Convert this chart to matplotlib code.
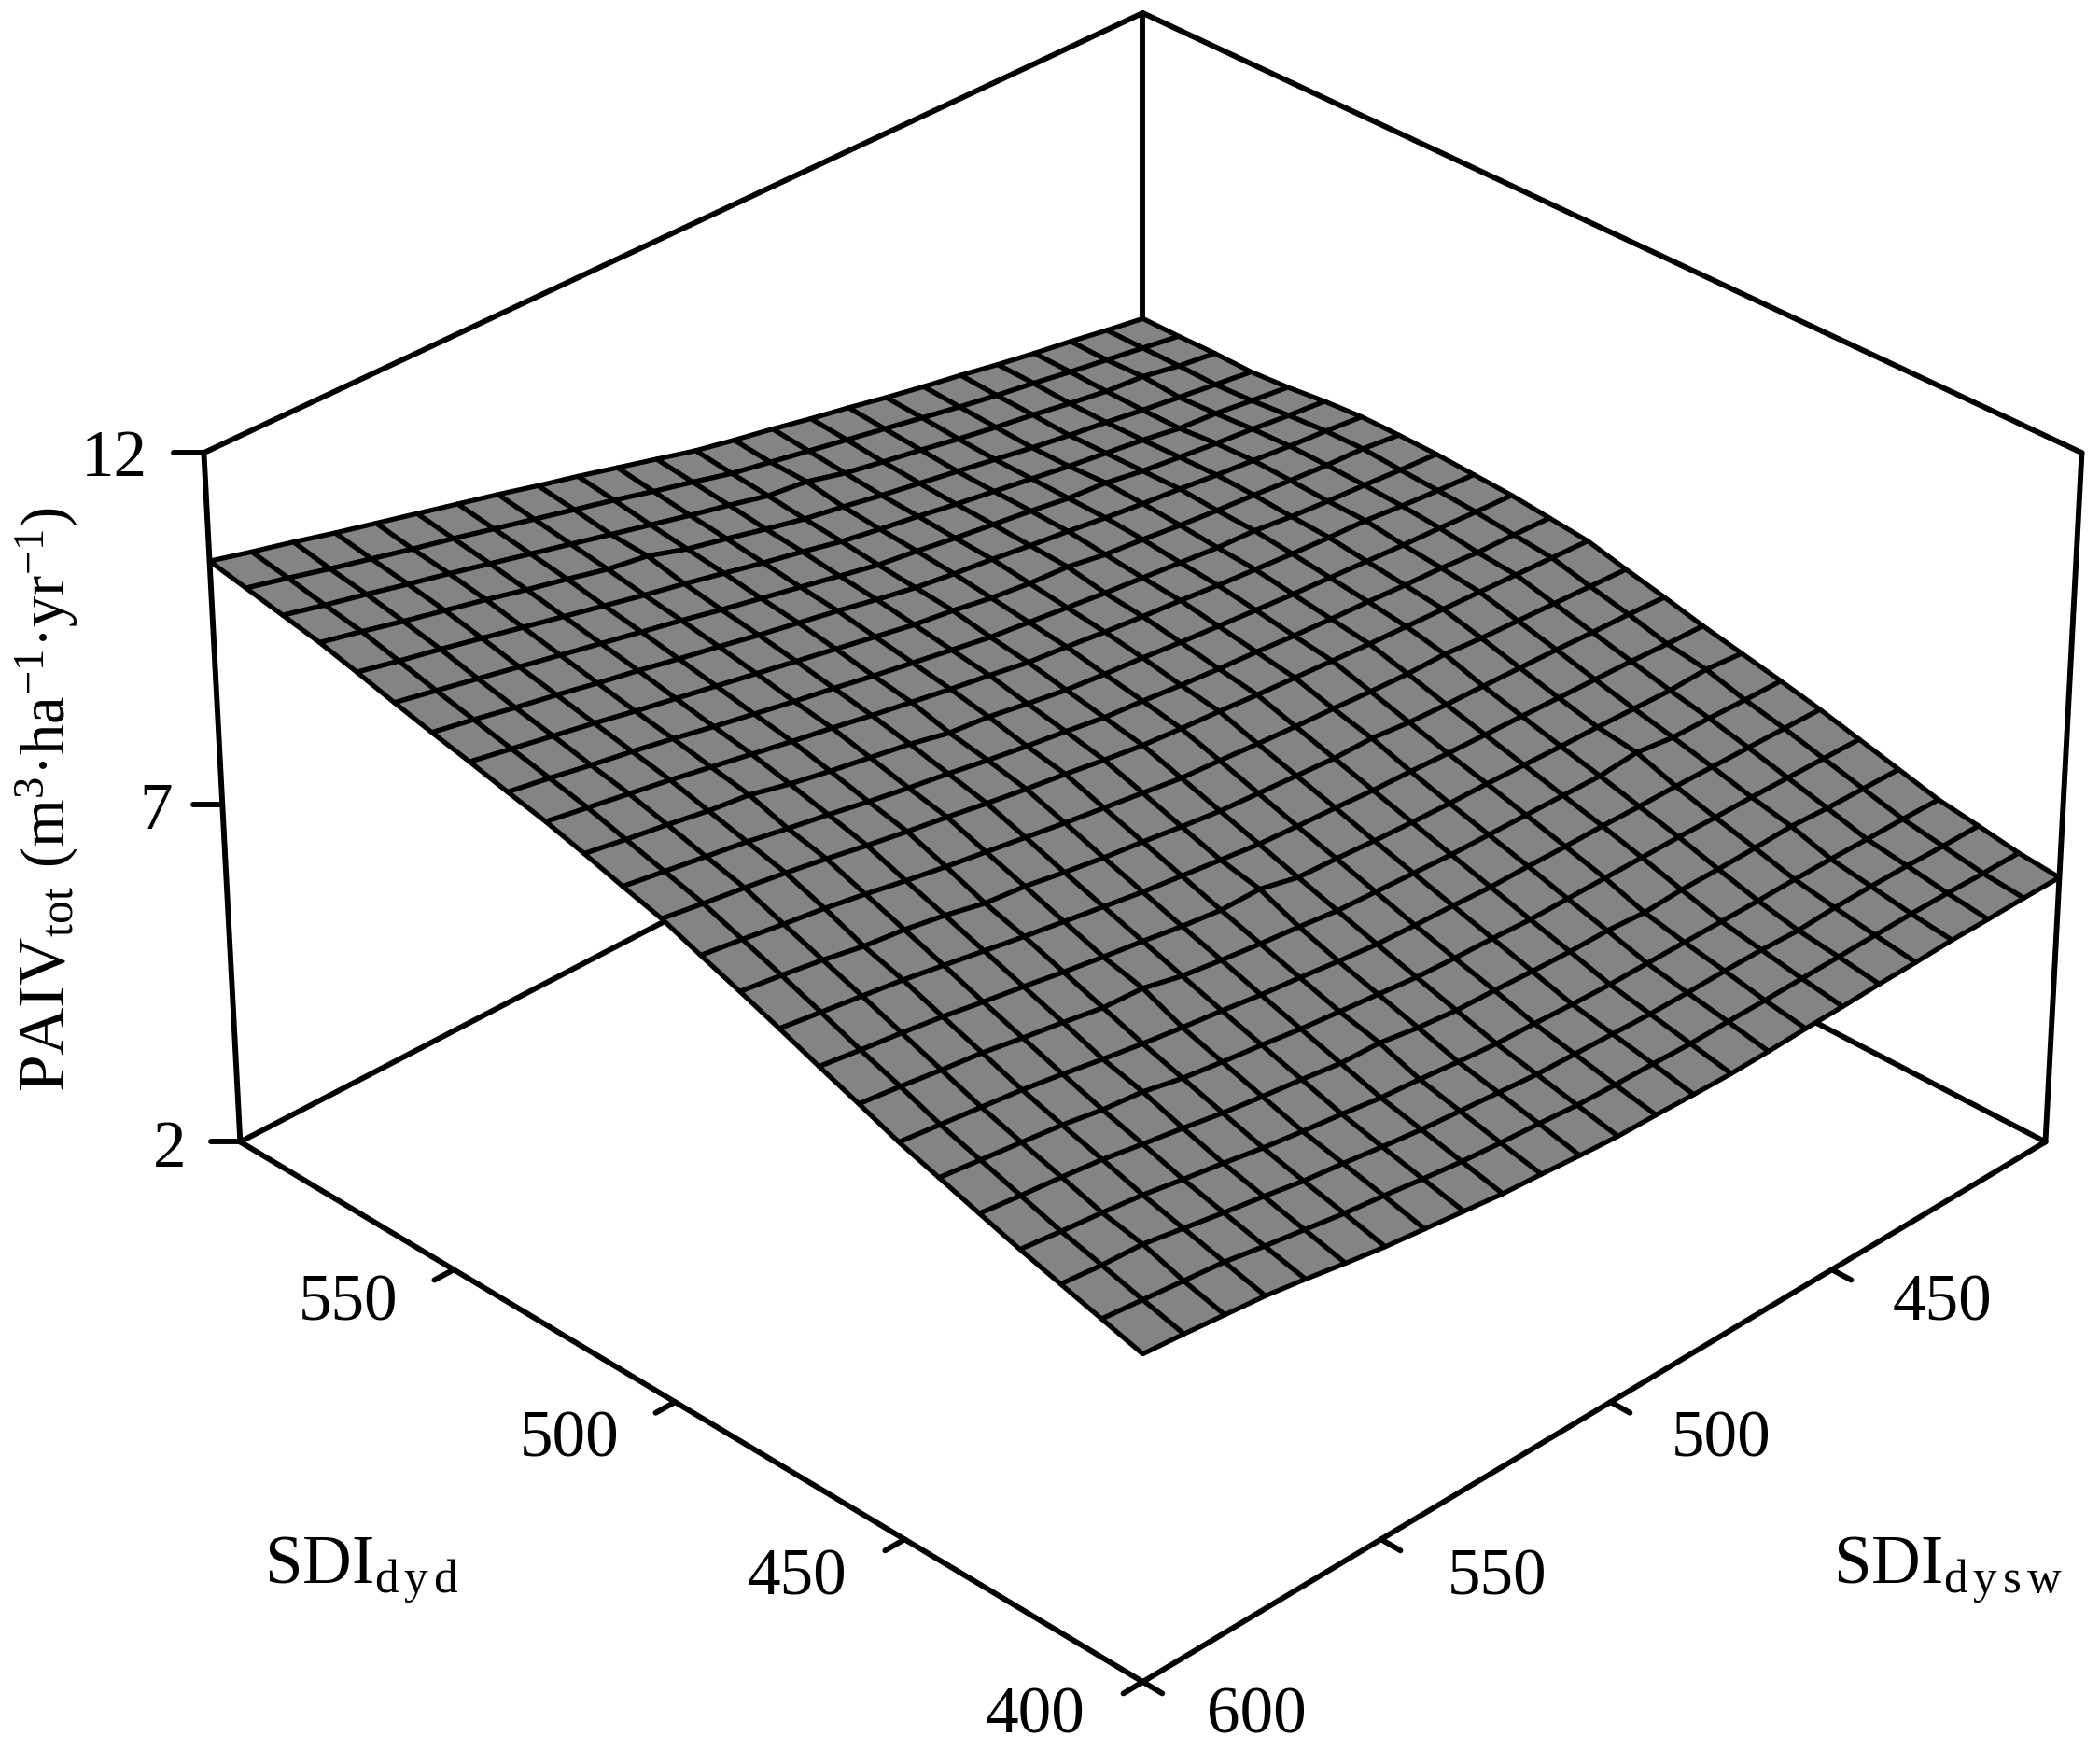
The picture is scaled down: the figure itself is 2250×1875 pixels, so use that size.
import numpy as np
import matplotlib
matplotlib.use('Agg')
import matplotlib.pyplot as plt

plt.rcParams['font.family'] = ['Liberation Serif', 'DejaVu Serif']
plt.rcParams['mathtext.fontset'] = 'custom'
plt.rcParams['mathtext.rm'] = 'Liberation Serif'
plt.rcParams['mathtext.it'] = 'Liberation Serif:italic'

# Grid of the surface: 25 x 25 nodes
sdi_dyd = np.linspace(400, 600, 25)
sdi_dysw = np.linspace(400, 600, 25)

# PAIVtot, one row per SDIdysw (400 -> 600), columns SDIdyd (400 -> 600)
paiv_tot = [
    [5.93, 5.99, 6.09, 6.18, 6.33, 6.48, 6.63, 6.76, 6.88, 7.00, 7.14, 7.27, 7.41, 7.47, 7.53, 7.56, 7.59, 7.60, 7.60, 7.56, 7.50, 7.46, 7.47, 7.46, 7.46],
    [5.93, 5.99, 6.09, 6.19, 6.34, 6.49, 6.64, 6.77, 6.93, 7.02, 7.17, 7.30, 7.44, 7.50, 7.56, 7.60, 7.63, 7.67, 7.66, 7.62, 7.57, 7.54, 7.55, 7.55, 7.55],
    [5.92, 6.00, 6.10, 6.19, 6.35, 6.50, 6.65, 6.79, 6.91, 7.05, 7.19, 7.33, 7.47, 7.52, 7.60, 7.65, 7.68, 7.70, 7.71, 7.69, 7.65, 7.62, 7.66, 7.64, 7.65],
    [5.92, 6.00, 6.10, 6.20, 6.38, 6.51, 6.66, 6.80, 6.93, 7.07, 7.22, 7.36, 7.50, 7.57, 7.63, 7.71, 7.72, 7.75, 7.77, 7.75, 7.70, 7.70, 7.71, 7.73, 7.74],
    [5.90, 5.99, 6.09, 6.20, 6.36, 6.51, 6.67, 6.87, 6.95, 7.09, 7.24, 7.39, 7.53, 7.60, 7.67, 7.74, 7.77, 7.81, 7.83, 7.82, 7.80, 7.79, 7.80, 7.83, 7.84],
    [5.89, 5.98, 6.06, 6.19, 6.35, 6.52, 6.67, 6.82, 6.96, 7.11, 7.26, 7.44, 7.56, 7.64, 7.71, 7.78, 7.84, 7.86, 7.90, 7.89, 7.88, 7.87, 7.90, 7.92, 7.95],
    [5.87, 5.97, 6.08, 6.19, 6.35, 6.52, 6.68, 6.83, 6.98, 7.13, 7.28, 7.44, 7.59, 7.67, 7.75, 7.83, 7.87, 7.92, 7.96, 7.99, 7.96, 7.96, 7.99, 8.02, 8.05],
    [5.86, 5.96, 6.08, 6.19, 6.32, 6.52, 6.68, 6.84, 7.00, 7.15, 7.31, 7.47, 7.63, 7.71, 7.80, 7.88, 7.93, 7.99, 8.03, 8.04, 8.05, 8.06, 8.09, 8.13, 8.16],
    [5.84, 5.96, 6.07, 6.19, 6.36, 6.52, 6.69, 6.85, 7.01, 7.18, 7.37, 7.51, 7.67, 7.76, 7.85, 7.94, 7.99, 8.05, 8.11, 8.13, 8.14, 8.16, 8.20, 8.24, 8.28],
    [5.83, 5.95, 6.07, 6.19, 6.36, 6.52, 6.69, 6.86, 7.03, 7.20, 7.37, 7.54, 7.71, 7.80, 7.90, 7.99, 8.05, 8.15, 8.18, 8.21, 8.23, 8.26, 8.30, 8.35, 8.39],
    [5.84, 5.97, 6.09, 6.21, 6.38, 6.55, 6.72, 6.89, 7.06, 7.24, 7.41, 7.58, 7.76, 7.85, 7.96, 8.05, 8.12, 8.19, 8.26, 8.29, 8.33, 8.36, 8.41, 8.46, 8.51],
    [5.86, 5.98, 6.11, 6.24, 6.41, 6.57, 6.74, 6.92, 7.10, 7.27, 7.45, 7.63, 7.80, 7.91, 8.01, 8.12, 8.19, 8.26, 8.33, 8.38, 8.42, 8.47, 8.56, 8.57, 8.62],
    [5.87, 6.00, 6.13, 6.26, 6.43, 6.60, 6.77, 6.95, 7.13, 7.31, 7.49, 7.67, 7.85, 7.96, 8.07, 8.18, 8.26, 8.36, 8.41, 8.46, 8.52, 8.57, 8.63, 8.68, 8.74],
    [5.91, 6.05, 6.18, 6.31, 6.49, 6.66, 6.83, 7.02, 7.26, 7.38, 7.56, 7.75, 7.93, 8.05, 8.16, 8.28, 8.36, 8.44, 8.52, 8.58, 8.65, 8.70, 8.77, 8.83, 8.89],
    [5.96, 6.09, 6.23, 6.37, 6.58, 6.72, 6.90, 7.08, 7.26, 7.45, 7.64, 7.83, 8.02, 8.13, 8.26, 8.37, 8.46, 8.55, 8.64, 8.70, 8.77, 8.84, 8.90, 8.97, 9.04],
    [6.00, 6.14, 6.28, 6.42, 6.60, 6.78, 6.96, 7.15, 7.33, 7.52, 7.71, 7.91, 8.10, 8.22, 8.32, 8.47, 8.56, 8.66, 8.75, 8.82, 8.90, 8.97, 9.04, 9.12, 9.19],
    [6.07, 6.21, 6.35, 6.50, 6.68, 6.86, 7.04, 7.23, 7.42, 7.61, 7.80, 8.00, 8.19, 8.32, 8.45, 8.57, 8.67, 8.77, 8.86, 8.94, 9.03, 9.15, 9.18, 9.26, 9.33],
    [6.14, 6.29, 6.43, 6.57, 6.75, 6.93, 7.11, 7.36, 7.50, 7.70, 7.90, 8.09, 8.29, 8.41, 8.55, 8.68, 8.77, 8.88, 8.98, 9.07, 9.15, 9.24, 9.32, 9.40, 9.48],
    [6.21, 6.36, 6.50, 6.65, 6.83, 7.01, 7.19, 7.39, 7.59, 7.79, 7.96, 8.18, 8.38, 8.51, 8.65, 8.78, 8.88, 8.99, 9.09, 9.19, 9.28, 9.38, 9.46, 9.54, 9.62],
    [6.30, 6.45, 6.60, 6.75, 6.93, 7.13, 7.28, 7.49, 7.69, 7.89, 8.09, 8.28, 8.48, 8.62, 8.76, 8.89, 8.99, 9.10, 9.21, 9.31, 9.41, 9.51, 9.60, 9.68, 9.76],
    [6.40, 6.54, 6.69, 6.84, 7.02, 7.19, 7.38, 7.58, 7.78, 7.99, 8.19, 8.39, 8.59, 8.72, 8.90, 9.00, 9.11, 9.21, 9.32, 9.43, 9.54, 9.65, 9.74, 9.81, 9.90],
    [6.49, 6.64, 6.79, 6.94, 7.12, 7.29, 7.47, 7.68, 7.88, 8.09, 8.26, 8.49, 8.69, 8.83, 8.97, 9.11, 9.22, 9.33, 9.44, 9.55, 9.67, 9.78, 9.87, 9.95, 10.04],
    [6.55, 6.70, 6.89, 7.01, 7.19, 7.36, 7.54, 7.75, 7.96, 8.17, 8.37, 8.57, 8.78, 8.92, 9.07, 9.21, 9.32, 9.44, 9.55, 9.67, 9.80, 9.91, 10.01, 10.09, 10.19],
    [6.61, 6.76, 6.92, 7.07, 7.25, 7.43, 7.61, 7.83, 8.03, 8.25, 8.46, 8.66, 8.86, 9.01, 9.16, 9.31, 9.43, 9.55, 9.67, 9.79, 9.92, 10.05, 10.14, 10.24, 10.33],
    [6.66, 6.82, 6.98, 7.14, 7.32, 7.50, 7.68, 7.90, 8.11, 8.33, 8.54, 8.74, 8.95, 9.10, 9.26, 9.41, 9.53, 9.66, 9.78, 9.91, 10.05, 10.18, 10.28, 10.38, 10.48],
]

dyd_ticks = [400, 450, 500, 550]
dysw_ticks = [450, 500, 550, 600]
z_ticks = [2, 7, 12]

W, H = 2250, 1875
AX_SIZE = 2400  # axes are bigger than the figure so that the box fills it

fig = plt.figure(figsize=(9, 7.5), dpi=250)
ax = fig.add_axes([-8 / W, -219 / H, AX_SIZE / W, AX_SIZE / H], projection='3d')
ax.computed_zorder = False
ax.set_box_aspect((1, 1, 0.624), zoom=0.872)
ax.set_proj_type('persp', focal_length=0.9)
ax.view_init(elev=32.0, azim=135)
ax.set_xlim(400, 600, view_margin=0)
ax.set_ylim(400, 600, view_margin=0)
ax.set_zlim(2, 12, view_margin=0)
ax.set_axis_off()

X, Y = np.meshgrid(sdi_dyd, sdi_dysw)
ax.plot_surface(X, Y, np.array(paiv_tot), rstride=1, cstride=1, color='#848484',
                edgecolor='k', linewidth=1.5, shade=False, zorder=2)

lw = 1.7


def line(xs, ys, zs, z=3):
    ax.plot(xs, ys, zs, color='k', lw=lw, solid_capstyle='round', zorder=z)


# box: parts behind the surface
line([600, 600], [400, 400], [2, 12], z=1)
line([400, 600], [400, 400], [2, 2], z=1)
line([600, 600], [600, 400], [2, 2], z=1)
line([400, 600], [400, 400], [12, 12], z=1)
line([600, 600], [600, 400], [12, 12], z=1)

# box: parts in front
line([600, 600], [600, 600], [2, 12])
line([400, 400], [400, 400], [2, 12])
line([400, 600], [600, 600], [2, 2])
line([400, 400], [400, 600], [2, 2])

# ticks
for t in dyd_ticks:
    line([t, t], [600, 604], [2, 2])
for t in dysw_ticks:
    line([400, 396], [t, t], [2, 2])
for t in z_ticks:
    line([600, 603.2], [600, 603.2], [t, t])


def label(x, y, s, fs=20.5, **kw):
    kw.setdefault('ha', 'center')
    kw.setdefault('va', 'center')
    fig.text(x / W, 1 - y / H, s, fontsize=fs, **kw)


label(122, 493, '12')
label(167, 871, '7')
label(182, 1232, '2')
label(373, 1397, '550')
label(610, 1543, '500')
label(854, 1691, '450')
label(1109, 1839, '400')
label(2081, 1397, '450')
label(1844, 1543, '500')
label(1604, 1691, '550')
label(1346, 1839, '600')
label(283, 1696, r'SDI$_{\mathrm{d\,y\,d}}$', fs=21, ha='left', va='baseline')
label(1964, 1696, r'SDI$_{\mathrm{d\,y\,s\,w}}$', fs=21, ha='left', va='baseline')
label(70, 1170, r'PAIV$_{\mathrm{tot}}$', fs=20.5, ha='left', va='baseline',
      rotation=90, rotation_mode='anchor')
label(70, 930, r'(m$^{3}$·ha$^{-1}$·yr$^{-1}$)', fs=19.2, ha='left', va='baseline',
      rotation=90, rotation_mode='anchor')

fig.savefig('out.png', dpi=250)
